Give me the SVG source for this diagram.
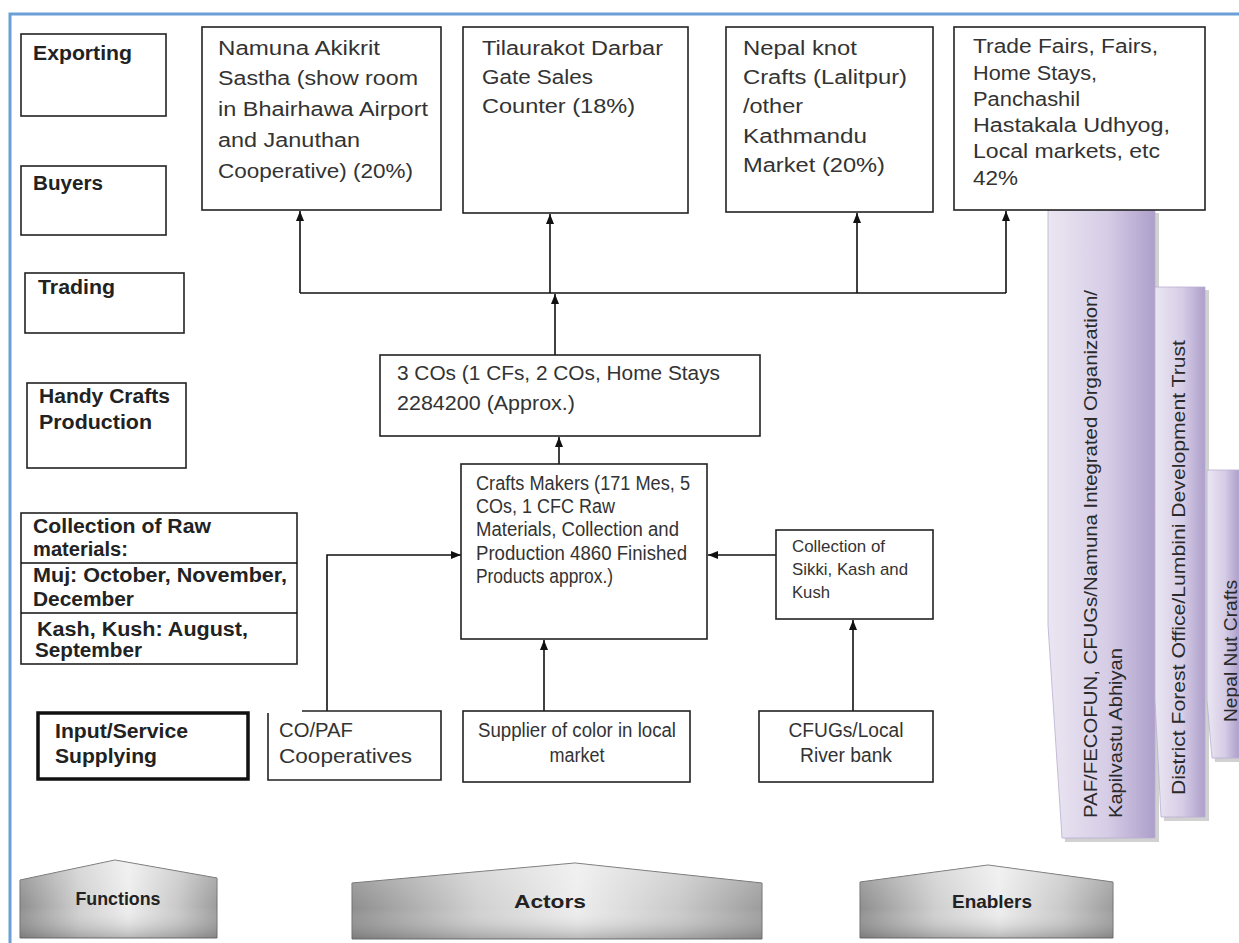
<svg xmlns="http://www.w3.org/2000/svg" width="1239" height="943" viewBox="0 0 1239 943">
<defs>
<marker id="arr" markerWidth="10" markerHeight="8" refX="10" refY="4" orient="auto" markerUnits="userSpaceOnUse">
<path d="M0,0 L10,4 L0,8 Z" fill="#111"/>
</marker>
<linearGradient id="purp" x1="0" y1="0" x2="1" y2="0">
<stop offset="0" stop-color="#ebe6f2"/>
<stop offset="0.55" stop-color="#d6cde6"/>
<stop offset="1" stop-color="#ad9fcb"/>
</linearGradient>
<linearGradient id="metal" x1="0" y1="0" x2="1" y2="0">
<stop offset="0" stop-color="#8e8e8e"/>
<stop offset="0.3" stop-color="#cfcfcf"/>
<stop offset="0.55" stop-color="#ededed"/>
<stop offset="0.8" stop-color="#c9c9c9"/>
<stop offset="1" stop-color="#9c9c9c"/>
</linearGradient>
<linearGradient id="metalV" x1="0" y1="0" x2="0" y2="1">
<stop offset="0" stop-color="#ffffff" stop-opacity="0.25"/>
<stop offset="0.6" stop-color="#ffffff" stop-opacity="0"/>
<stop offset="1" stop-color="#555555" stop-opacity="0.35"/>
</linearGradient>
</defs>
<style>
.box{fill:#fff;stroke:#222;stroke-width:1.6}
.t{font-family:"Liberation Sans",Arial,sans-serif;font-size:20px;fill:#333}
.s{font-size:17px}
.b{font-weight:bold;fill:#222}
.ln{stroke:#111;stroke-width:1.6;fill:none}
.pan{fill:url(#purp);stroke:#b9aed0;stroke-width:0.8}
.sh{fill:#9a9a9a;opacity:0.45}
.pt{font-family:"Liberation Sans",Arial,sans-serif;font-size:18px;fill:#2a2a2a}
.pent{fill:url(#metal);stroke:#6f6f6f;stroke-width:1}
.pentv{fill:url(#metalV)}
.ht{font-family:"Liberation Sans",Arial,sans-serif;font-size:19px;font-weight:bold;fill:#222;text-anchor:middle}
</style>
<rect width="1239" height="943" fill="#fff"/>
<path d="M10,943 V14 H1239" fill="none" stroke="#6b9fd6" stroke-width="3"/>

<g id="enablers">
<g id="enabler-paf">
<path class="sh" d="M1051,213 L1159,213 L1159,842 L1065,842 L1051,628 Z"/>
<path class="pan" d="M1048,210 L1155,210 L1155,838 L1062,838 L1048,625 Z"/>
<text class="pt" transform="translate(1097,818) rotate(-90)" textLength="528" lengthAdjust="spacingAndGlyphs">PAF/FECOFUN, CFUGs/Namuna Integrated Organization/</text>
<text class="pt" transform="translate(1122,818) rotate(-90)" textLength="170" lengthAdjust="spacingAndGlyphs">Kapilvastu Abhiyan</text>
</g>
<g id="enabler-dfo">
<path class="sh" d="M1158,290 L1209,290 L1209,821 L1164,821 L1158,703 Z"/>
<path class="pan" d="M1155,287 L1205,287 L1205,817 L1161,817 L1155,700 Z"/>
<text class="pt" transform="translate(1185,795) rotate(-90)" textLength="455" lengthAdjust="spacingAndGlyphs">District Forest Office/Lumbini Development Trust</text>
</g>
<g id="enabler-nnc">
<path class="sh" d="M1210,473 L1239,473 L1239,762 L1215,762 L1210,703 Z"/>
<path class="pan" d="M1207,470 L1239,470 L1239,758 L1212,758 L1207,700 Z"/>
<text class="pt" transform="translate(1237,722) rotate(-90)" textLength="142" lengthAdjust="spacingAndGlyphs">Nepal Nut Crafts</text>
</g>
</g>

<g id="functions">
<g id="f-exporting"><rect class="box" x="21" y="34" width="145" height="82"/>
<text class="t b" x="33" y="60" textLength="99" lengthAdjust="spacingAndGlyphs">Exporting</text></g>
<g id="f-buyers"><rect class="box" x="21" y="166" width="145" height="69"/>
<text class="t b" x="33" y="190" textLength="70" lengthAdjust="spacingAndGlyphs">Buyers</text></g>
<g id="f-trading"><rect class="box" x="25" y="273" width="159" height="60"/>
<text class="t b" x="38" y="294" textLength="77" lengthAdjust="spacingAndGlyphs">Trading</text></g>
<g id="f-production"><rect class="box" x="27" y="383" width="159" height="85"/>
<text class="t b" x="39" y="403" textLength="131" lengthAdjust="spacingAndGlyphs">Handy Crafts</text>
<text class="t b" x="39" y="429" textLength="113" lengthAdjust="spacingAndGlyphs">Production</text></g>
<g id="f-collection"><rect class="box" x="21" y="513" width="276" height="151"/>
<path class="ln" d="M21,563 H297 M21,613 H297"/>
<text class="t b" x="33" y="533" textLength="178" lengthAdjust="spacingAndGlyphs">Collection of Raw</text>
<text class="t b" x="33" y="556" textLength="95" lengthAdjust="spacingAndGlyphs">materials:</text>
<text class="t b" x="33" y="582" textLength="254" lengthAdjust="spacingAndGlyphs">Muj: October, November,</text>
<text class="t b" x="33" y="606" textLength="101" lengthAdjust="spacingAndGlyphs">December</text>
<text class="t b" x="37" y="636" textLength="211" lengthAdjust="spacingAndGlyphs">Kash, Kush: August,</text>
<text class="t b" x="35" y="657" textLength="107" lengthAdjust="spacingAndGlyphs">September</text></g>
<g id="f-input"><rect x="38" y="713" width="210" height="66" fill="#fff" stroke="#111" stroke-width="3.5"/>
<text class="t b" x="55" y="738" textLength="133" lengthAdjust="spacingAndGlyphs">Input/Service</text>
<text class="t b" x="55" y="763" textLength="102" lengthAdjust="spacingAndGlyphs">Supplying</text></g>
</g>

<g id="connectors">
<path class="ln" d="M300,293 H1006"/>
<path class="ln" d="M300,293 V211" marker-end="url(#arr)"/>
<path class="ln" d="M550,293 V214" marker-end="url(#arr)"/>
<path class="ln" d="M857,293 V213" marker-end="url(#arr)"/>
<path class="ln" d="M1006,293 V211" marker-end="url(#arr)"/>
<path class="ln" d="M555,355 V294" marker-end="url(#arr)"/>
<path class="ln" d="M559,464 V437" marker-end="url(#arr)"/>
<path class="ln" d="M327,711 V555 H461" marker-end="url(#arr)"/>
<path class="ln" d="M776,555 H708" marker-end="url(#arr)"/>
<path class="ln" d="M544,711 V640" marker-end="url(#arr)"/>
<path class="ln" d="M853,711 V620" marker-end="url(#arr)"/>
</g>

<g id="actors">
<g id="a-namuna"><rect class="box" x="202" y="27" width="239" height="183"/>
<text class="t" x="218" y="55" textLength="162" lengthAdjust="spacingAndGlyphs">Namuna Akikrit</text>
<text class="t" x="218" y="85" textLength="200" lengthAdjust="spacingAndGlyphs">Sastha (show room</text>
<text class="t" x="218" y="116" textLength="210" lengthAdjust="spacingAndGlyphs">in Bhairhawa Airport</text>
<text class="t" x="218" y="147" textLength="142" lengthAdjust="spacingAndGlyphs">and Januthan</text>
<text class="t" x="218" y="178" textLength="195" lengthAdjust="spacingAndGlyphs">Cooperative) (20%)</text></g>
<g id="a-tilaurakot"><rect class="box" x="463" y="27" width="225" height="186"/>
<text class="t" x="482" y="55" textLength="181" lengthAdjust="spacingAndGlyphs">Tilaurakot Darbar</text>
<text class="t" x="482" y="84" textLength="111" lengthAdjust="spacingAndGlyphs">Gate Sales</text>
<text class="t" x="482" y="113" textLength="153" lengthAdjust="spacingAndGlyphs">Counter (18%)</text></g>
<g id="a-nepalknot"><rect class="box" x="726" y="27" width="207" height="185"/>
<text class="t" x="743" y="55" textLength="114" lengthAdjust="spacingAndGlyphs">Nepal knot</text>
<text class="t" x="743" y="84" textLength="164" lengthAdjust="spacingAndGlyphs">Crafts (Lalitpur)</text>
<text class="t" x="743" y="113" textLength="60" lengthAdjust="spacingAndGlyphs">/other</text>
<text class="t" x="743" y="143" textLength="124" lengthAdjust="spacingAndGlyphs">Kathmandu</text>
<text class="t" x="743" y="172" textLength="142" lengthAdjust="spacingAndGlyphs">Market (20%)</text></g>
<g id="a-tradefairs"><rect class="box" x="954" y="27" width="251" height="183"/>
<text class="t" x="973" y="53" textLength="185" lengthAdjust="spacingAndGlyphs">Trade Fairs, Fairs,</text>
<text class="t" x="973" y="80" textLength="124" lengthAdjust="spacingAndGlyphs">Home Stays,</text>
<text class="t" x="973" y="106" textLength="107" lengthAdjust="spacingAndGlyphs">Panchashil</text>
<text class="t" x="973" y="132" textLength="197" lengthAdjust="spacingAndGlyphs">Hastakala Udhyog,</text>
<text class="t" x="973" y="158" textLength="187" lengthAdjust="spacingAndGlyphs">Local markets, etc</text>
<text class="t" x="973" y="185" textLength="45" lengthAdjust="spacingAndGlyphs">42%</text></g>
<g id="a-3cos"><rect class="box" x="380" y="355" width="380" height="81"/>
<text class="t" x="397" y="380" textLength="323" lengthAdjust="spacingAndGlyphs">3 COs (1 CFs, 2 COs, Home Stays</text>
<text class="t" x="397" y="410" textLength="178" lengthAdjust="spacingAndGlyphs">2284200 (Approx.)</text></g>
<g id="a-craftsmakers"><rect class="box" x="461" y="464" width="246" height="175"/>
<text class="t" x="476" y="490" textLength="214" lengthAdjust="spacingAndGlyphs">Crafts Makers (171 Mes, 5</text>
<text class="t" x="476" y="513" textLength="139" lengthAdjust="spacingAndGlyphs">COs, 1 CFC Raw</text>
<text class="t" x="476" y="536" textLength="203" lengthAdjust="spacingAndGlyphs">Materials, Collection and</text>
<text class="t" x="476" y="560" textLength="211" lengthAdjust="spacingAndGlyphs">Production 4860 Finished</text>
<text class="t" x="476" y="583" textLength="137" lengthAdjust="spacingAndGlyphs">Products approx.)</text></g>
<g id="a-sikki"><rect class="box" x="776" y="530" width="157" height="89"/>
<text class="t s" x="792" y="552" textLength="93" lengthAdjust="spacingAndGlyphs">Collection of</text>
<text class="t s" x="792" y="575" textLength="116" lengthAdjust="spacingAndGlyphs">Sikki, Kash and</text>
<text class="t s" x="792" y="598" textLength="38" lengthAdjust="spacingAndGlyphs">Kush</text></g>
<g id="a-copaf"><path class="box" d="M302,711 H441 V780 H268 V713"/>
<text class="t" x="279" y="737" textLength="74" lengthAdjust="spacingAndGlyphs">CO/PAF</text>
<text class="t" x="279" y="763" textLength="133" lengthAdjust="spacingAndGlyphs">Cooperatives</text></g>
<g id="a-supplier"><rect class="box" x="463" y="711" width="227" height="71"/>
<text class="t" x="577" y="737" text-anchor="middle" textLength="198" lengthAdjust="spacingAndGlyphs">Supplier of color in local</text>
<text class="t" x="577" y="762" text-anchor="middle" textLength="55" lengthAdjust="spacingAndGlyphs">market</text></g>
<g id="a-cfugs"><rect class="box" x="759" y="711" width="174" height="71"/>
<text class="t" x="846" y="737" text-anchor="middle" textLength="115" lengthAdjust="spacingAndGlyphs">CFUGs/Local</text>
<text class="t" x="846" y="762" text-anchor="middle" textLength="92" lengthAdjust="spacingAndGlyphs">River bank</text></g>
</g>

<g id="headings">
<g id="h-functions">
<path class="pent" d="M20,880 L115,860 L217,878 L217,938 L20,938 Z"/>
<path class="pentv" d="M20,880 L115,860 L217,878 L217,938 L20,938 Z"/>
<text class="ht" x="118" y="905" textLength="85" lengthAdjust="spacingAndGlyphs">Functions</text>
</g>
<g id="h-actors">
<path class="pent" d="M352,883 L575,863 L762,883 L762,939 L352,939 Z"/>
<path class="pentv" d="M352,883 L575,863 L762,883 L762,939 L352,939 Z"/>
<text class="ht" x="550" y="908" textLength="72" lengthAdjust="spacingAndGlyphs">Actors</text>
</g>
<g id="h-enablers">
<path class="pent" d="M860,882 L988,865 L1113,882 L1113,938 L860,938 Z"/>
<path class="pentv" d="M860,882 L988,865 L1113,882 L1113,938 L860,938 Z"/>
<text class="ht" x="992" y="908" textLength="80" lengthAdjust="spacingAndGlyphs">Enablers</text>
</g>
</g>
</svg>
